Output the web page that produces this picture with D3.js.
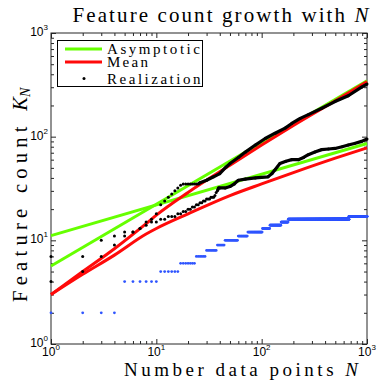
<!DOCTYPE html>
<meta charset="utf-8">
<head>
<script src="https://d3js.org/d3.v7.min.js"></script>
<style>
  body { margin: 0; background: #fff; }
  svg { display: block; }
</style>
</head>
<body>
<svg width="382" height="386"></svg>
<script>
// asymptotic power laws (straight on log-log), endpoints
var asymN = [1, 1000];
var asymFast = [5.65, 346];
var asymSlow = [11.1, 86];

// expected feature counts
var meanN = [1, 2, 4, 8, 10, 20, 50, 100, 200, 500, 1000];
var meanFast = [3, 5, 8.3, 14.5, 17.5, 29, 53, 83, 128, 222, 340];
var meanSlow = [3, 4.7, 7.2, 11.5, 13, 18, 27, 35, 45, 62, 78];

// realization, steep growth
var realFastN = [1, 2, 3, 4, 5, 6, 7, 8, 9, 10, 11, 12, 13, 14, 15, 16, 17, 18, 19, 20, 21, 22, 23, 24, 25,
  26, 30, 35, 40, 46, 50, 60, 70, 87, 108, 134, 167, 193, 232, 277, 372, 497, 664, 888, 1000];
var realFastK = [4, 5, 7, 9, 11, 12, 13, 15, 16, 18, 22, 24, 26, 28, 30, 32, 34, 35, 35, 35, 35, 35, 35, 35, 35,
  36, 38, 41, 44, 51, 55, 63, 71, 83, 96, 108, 121, 134, 150, 163, 188, 218, 248, 300, 322];

// realization, slow growth
var realSlowN = [1, 2, 3, 4, 5, 6, 7, 8, 9, 10, 11, 12, 13, 14, 15, 16, 17, 18, 19, 20, 21, 22, 23, 24, 25,
  26, 27, 28, 29, 30, 31, 32, 33, 34, 35, 36, 37, 38, 39, 40,
  45, 50, 55, 60, 70, 87, 115, 125, 134, 149, 170, 193, 223, 250, 277, 320, 372, 430, 497, 580, 664, 760, 888, 1000];
var realSlowK = [7, 7, 10, 11, 12, 12, 13, 14, 15, 15, 16, 16, 17, 17, 17, 18, 18, 19, 19, 20, 20, 21, 21, 22, 22,
  23, 23, 24, 24, 25, 25, 25, 26, 26, 26, 27, 29, 30, 32, 32,
  32, 33, 35, 38, 39, 40, 41, 44, 48, 55, 58, 60, 60, 63, 67, 71, 75, 76, 77, 80, 83, 86, 90, 95];

// realization, logarithmic growth: runs of constant K
var blueStart = [1, 5, 11, 17, 24, 30, 38, 45, 60, 74, 102, 120, 153, 179, 675];
var blueEnd = [4, 10, 16, 23, 29, 37, 44, 59, 73, 101, 119, 152, 178, 674, 1000];
var blueK = [2, 4, 5, 6, 7, 8, 9, 10, 11, 12, 13, 14, 15, 16, 17];

var majorTicks = [1, 10, 100, 1000];
var tickExp = ["0", "1", "2", "3"];
var legendLabels = ["Asymptotic", "Mean", "Realization"];

var green = "#66ff00", red = "#ff0a0a", blue = "#2f55ff";

var svg = d3.select("svg");
var pL = 51, pR = 367, pT = 33, pB = 344;

var x = d3.scaleLog().domain([1, 1000]).range([pL, pR]);
var y = d3.scaleLog().domain([1, 1000]).range([pB, pT]);

var minorTicks = [];
majorTicks.slice(0, 3).forEach(function (d) {
  for (var m = 2; m <= 9; m++) minorTicks.push(d * m);
});

// ticks on all four sides, pointing inward
function ticks(axis, vals, size, tr) {
  var g = svg.append("g").attr("transform", tr)
    .call(axis.tickValues(vals).tickSize(size).tickFormat(""));
  g.select(".domain").remove();
  g.selectAll("line").attr("stroke", "#262626");
}
[[majorTicks, 5], [minorTicks, 3]].forEach(function (t) {
  ticks(d3.axisBottom(x), t[0], -t[1], "translate(0," + pB + ")");
  ticks(d3.axisTop(x), t[0], -t[1], "translate(0," + pT + ")");
  ticks(d3.axisLeft(y), t[0], -t[1], "translate(" + pL + ",0)");
  ticks(d3.axisRight(y), t[0], -t[1], "translate(" + pR + ",0)");
});

svg.append("rect")
  .attr("x", pL).attr("y", pT)
  .attr("width", pR - pL).attr("height", pB - pT)
  .attr("fill", "none").attr("stroke", "#262626").attr("stroke-width", 1);

// tick labels 10^k
majorTicks.forEach(function (d, i) {
  var t = svg.append("text")
    .attr("x", x(d)).attr("y", pB + 12)
    .attr("text-anchor", "middle")
    .style("font-family", "Liberation Sans, Arial, sans-serif")
    .style("font-size", "12px");
  t.append("tspan").text("10");
  t.append("tspan").attr("dy", -6).style("font-size", "8px").text(tickExp[i]);

  var u = svg.append("text")
    .attr("x", pL - 3).attr("y", y(d) + 3)
    .attr("text-anchor", "end")
    .style("font-family", "Liberation Sans, Arial, sans-serif")
    .style("font-size", "12px");
  u.append("tspan").text("10");
  u.append("tspan").attr("dy", -6).style("font-size", "8px").text(tickExp[i]);
});

var line = d3.line()
  .x(function (d) { return x(d[0]); })
  .y(function (d) { return y(d[1]); });

// blue realization dots
var blueDots = [];
blueK.forEach(function (k, i) {
  for (var n = blueStart[i]; n <= blueEnd[i]; n++) blueDots.push([n, k]);
});
svg.append("g").selectAll("circle")
  .data(blueDots).enter().append("circle")
  .attr("cx", function (d) { return x(d[0]); })
  .attr("cy", function (d) { return y(d[1]); })
  .attr("r", 1.4)
  .attr("fill", blue);

// asymptotic lines
[asymFast, asymSlow].forEach(function (vals) {
  svg.append("path")
    .datum(d3.zip(asymN, vals))
    .attr("d", line)
    .attr("fill", "none").attr("stroke", green).attr("stroke-width", 3);
});

// mean curves
[meanFast, meanSlow].forEach(function (vals) {
  svg.append("path")
    .datum(d3.zip(meanN, vals))
    .attr("d", line.curve(d3.curveMonotoneX))
    .attr("fill", "none").attr("stroke", red).attr("stroke-width", 3);
});
line.curve(d3.curveLinear);

// black realizations: dots, dense tail drawn as a thick chain
[[realFastN, realFastK, 25], [realSlowN, realSlowK, 38]].forEach(function (r) {
  var pts = d3.zip(r[0], r[1]);
  svg.append("path")
    .datum(pts.filter(function (d) { return d[0] >= r[2]; }))
    .attr("d", line)
    .attr("fill", "none").attr("stroke", "#000")
    .attr("stroke-width", 3.2).attr("stroke-linejoin", "round");
  svg.append("g").selectAll("circle")
    .data(pts).enter().append("circle")
    .attr("cx", function (d) { return x(d[0]); })
    .attr("cy", function (d) { return y(d[1]); })
    .attr("r", 1.5)
    .attr("fill", "#000");
});

// legend
var lg = svg.append("g");
lg.append("rect")
  .attr("x", 57.5).attr("y", 40.5).attr("width", 145).attr("height", 46)
  .attr("fill", "#fff").attr("stroke", "#000").attr("stroke-width", 1);
var legY = [49, 62, 78.5];
var legW = [93, 41, 93.5];
lg.append("line").attr("x1", 65).attr("x2", 102).attr("y1", legY[0]).attr("y2", legY[0])
  .attr("stroke", green).attr("stroke-width", 3);
lg.append("line").attr("x1", 65).attr("x2", 102).attr("y1", legY[1]).attr("y2", legY[1])
  .attr("stroke", red).attr("stroke-width", 3);
lg.append("circle").attr("cx", 84).attr("cy", legY[2]).attr("r", 1.5).attr("fill", "#000");
legendLabels.forEach(function (s, i) {
  lg.append("text")
    .attr("x", 107).attr("y", legY[i] + 5)
    .attr("textLength", legW[i]).attr("lengthAdjust", "spacing")
    .style("font-family", "Liberation Serif, Times New Roman, serif")
    .style("font-size", "15px")
    .text(s);
});

// title and axis labels
var title = svg.append("text")
  .attr("x", 72.5).attr("y", 22)
  .attr("textLength", 296).attr("lengthAdjust", "spacing")
  .style("font-family", "Liberation Serif, Times New Roman, serif")
  .style("font-size", "21px");
title.append("tspan").text("Feature count growth with ");
title.append("tspan").style("font-style", "italic").text("N");

var xl = svg.append("text")
  .attr("x", 124).attr("y", 376)
  .attr("textLength", 234).attr("lengthAdjust", "spacing")
  .style("font-family", "Liberation Serif, Times New Roman, serif")
  .style("font-size", "19px");
xl.append("tspan").text("Number data points ");
xl.append("tspan").style("font-style", "italic").text("N");

var yl = svg.append("text")
  .attr("transform", "translate(27,302) rotate(-90)")
  .attr("x", 0).attr("y", 0)
  .style("font-family", "Liberation Serif, Times New Roman, serif")
  .style("font-size", "20.5px");
yl.append("tspan").attr("textLength", 186).attr("lengthAdjust", "spacing").text("Feature count ");
yl.append("tspan").style("font-style", "italic").text("K");
yl.append("tspan").attr("dy", 3).style("font-style", "italic").style("font-size", "14px").text("N");
</script>
</body>
